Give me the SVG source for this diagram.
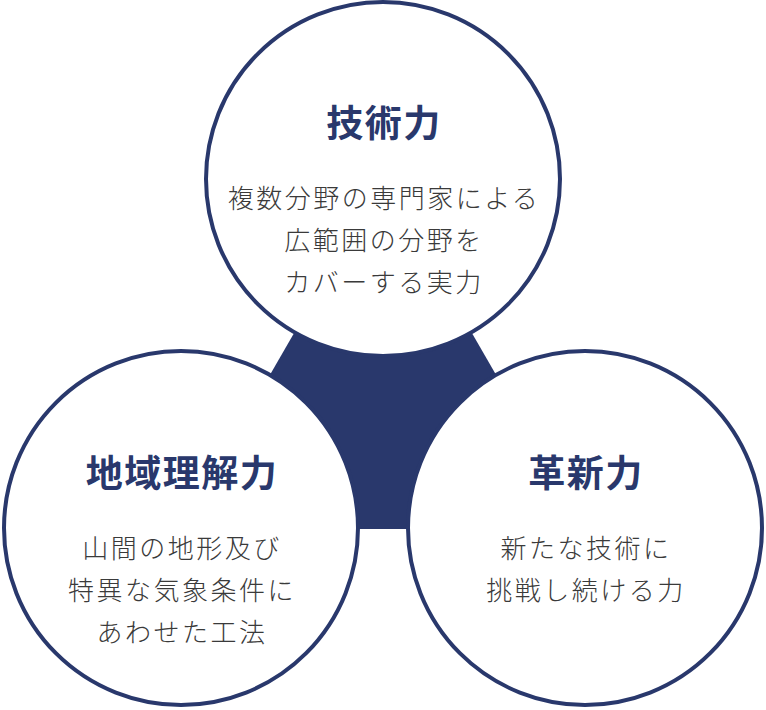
<svg xmlns="http://www.w3.org/2000/svg" width="766" height="710" viewBox="0 0 766 710">
  <style>
    .ring { fill: #ffffff; stroke: #29386c; stroke-width: 4; }
    .title { font-family: "Noto Sans CJK JP", "Noto Sans", sans-serif; font-size: 37px; font-weight: 700; fill: #29386c; text-anchor: middle; letter-spacing: 1.5px; }
    .body { font-family: "Noto Sans CJK JP", "Noto Sans", sans-serif; font-size: 26px; font-weight: 300; fill: #3a3a3a; text-anchor: middle; letter-spacing: 2.5px; }
  </style>
  <rect width="766" height="710" fill="#ffffff"/>
  <g id="connectors">
    <path d="M383 179 L181 529 L585 529 Z" fill="#29386c"/>
  </g>
  <g id="node-gijutsu">
    <circle class="ring" cx="383" cy="179" r="177"/>
    <text class="title" x="384" y="137">技術力</text>
    <text class="body" x="384" y="208">複数分野の専門家による</text>
    <text class="body" x="384" y="250">広範囲の分野を</text>
    <text class="body" x="384" y="292">カバーする実力</text>
  </g>
  <g id="node-chiiki">
    <circle class="ring" cx="181" cy="528" r="177"/>
    <text class="title" x="182" y="487">地域理解力</text>
    <text class="body" x="182" y="558">山間の地形及び</text>
    <text class="body" x="182" y="600">特異な気象条件に</text>
    <text class="body" x="182" y="642">あわせた工法</text>
  </g>
  <g id="node-kakushin">
    <circle class="ring" cx="585" cy="528" r="177"/>
    <text class="title" x="586" y="487">革新力</text>
    <text class="body" x="586" y="558">新たな技術に</text>
    <text class="body" x="586" y="600">挑戦し続ける力</text>
  </g>
</svg>
